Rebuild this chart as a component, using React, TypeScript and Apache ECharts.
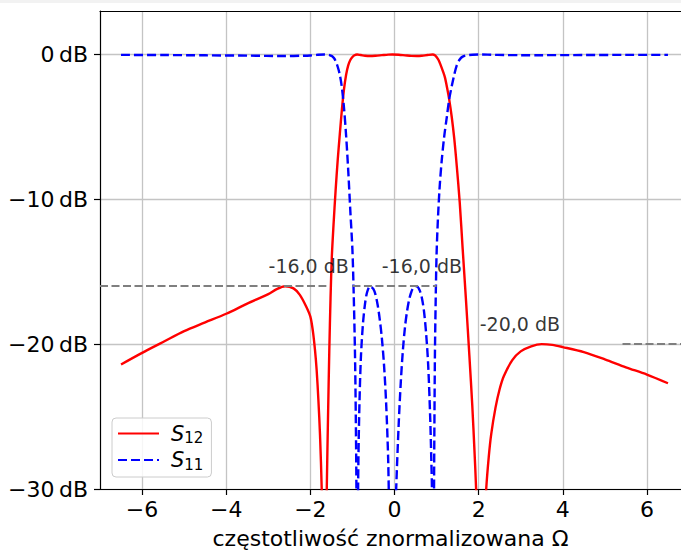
import React, { useEffect, useRef } from "react";
import * as echarts from "echarts";

const xTicks = [-6, -4, -2, 0, 2, 4, 6];
const yTicks = [-30, -20, -10, 0];

const s12X = [-6.5, -6.0, -5.5, -5.0, -4.5, -4.0, -3.5, -3.0, -2.8, -2.6, -2.4, -2.25, -2.1, -2.0, -1.94, -1.89, -1.85, -1.81, -1.77, -1.73, -1.7, -1.67, -1.64, -1.61, -1.58, -1.55, -1.52, -1.49, -1.45, -1.4, -1.35, -1.3, -1.25, -1.2, -1.15, -1.1, -1.05, -1.0, -0.95, -0.89, -0.8, -0.7, -0.58, -0.45, -0.3, -0.15, -0.05, 0.1, 0.25, 0.4, 0.53, 0.65, 0.78, 0.91, 0.96, 1.0, 1.05, 1.1, 1.15, 1.2, 1.25, 1.3, 1.36, 1.42, 1.48, 1.55, 1.62, 1.7, 1.78, 1.85, 1.9, 1.94, 1.98, 2.02, 2.06, 2.1, 2.14, 2.18, 2.24, 2.3, 2.4, 2.5, 2.6, 2.8, 3.0, 3.25, 3.5, 3.75, 4.0, 4.5, 5.0, 5.5, 6.0, 6.5];
const s12Y = [-21.4, -20.6, -19.85, -19.1, -18.5, -17.9, -17.2, -16.55, -16.2, -16.0, -16.15, -16.6, -17.4, -18.1, -19.1, -20.4, -21.8, -23.8, -26.3, -30, -35, -50, -36, -30, -25, -20.5, -16.8, -14.0, -11.8, -9.4, -7.3, -5.5, -3.8, -2.4, -1.4, -0.75, -0.38, -0.18, -0.05, 0, -0.04, -0.09, -0.11, -0.09, -0.05, -0.01, 0, -0.02, -0.06, -0.1, -0.11, -0.09, -0.04, 0, -0.05, -0.18, -0.4, -0.75, -1.15, -1.6, -2.3, -3.1, -4.3, -5.8, -7.7, -10.2, -13.4, -17.0, -20.8, -24.3, -27.3, -30, -34, -40, -52, -38, -32.5, -30, -27.8, -26.2, -24.4, -23.1, -22.2, -21.1, -20.5, -20.15, -20.0, -20.05, -20.2, -20.55, -21.05, -21.6, -22.1, -22.7];

const s11X = [-6.5, -5.5, -4.5, -3.5, -2.6, -2.2, -2.0, -1.85, -1.67, -1.58, -1.53, -1.48, -1.44, -1.4, -1.35, -1.3, -1.25, -1.2, -1.15, -1.1, -1.05, -1.0, -0.97, -0.94, -0.92, -0.905, -0.885, -0.865, -0.84, -0.8, -0.75, -0.7, -0.65, -0.58, -0.5, -0.45, -0.4, -0.35, -0.3, -0.25, -0.2, -0.15, -0.12, -0.09, -0.055, -0.02, 0.01, 0.04, 0.1, 0.15, 0.2, 0.25, 0.3, 0.35, 0.4, 0.45, 0.53, 0.6, 0.65, 0.7, 0.75, 0.8, 0.85, 0.875, 0.89, 0.915, 0.94, 0.96, 0.98, 1.0, 1.03, 1.07, 1.12, 1.18, 1.24, 1.3, 1.36, 1.42, 1.48, 1.55, 1.62, 1.72, 1.85, 2.06, 2.3, 2.6, 3.0, 3.5, 4.5, 5.5, 6.5];
const s11Y = [-0.03, -0.04, -0.06, -0.08, -0.11, -0.09, -0.07, -0.03, 0, -0.02, -0.06, -0.13, -0.25, -0.45, -0.85, -1.4, -2.3, -3.7, -5.6, -8.0, -10.8, -13.5, -16.5, -20.5, -25, -30, -45, -30, -25, -21, -18.6, -17.2, -16.4, -16.0, -16.2, -16.6, -17.3, -18.3, -19.6, -21.4, -24, -28, -33.3, -38.7, -50, -38.7, -33.3, -30, -25.5, -22.6, -20.4, -18.8, -17.7, -16.9, -16.4, -16.1, -16.0, -16.3, -16.8, -17.7, -19.2, -21.4, -25.2, -28, -30, -48, -30, -21, -16.8, -13.8, -11.5, -9.3, -7.4, -5.7, -4.4, -3.1, -2.2, -1.4, -0.75, -0.35, -0.15, -0.06, -0.02, 0, -0.02, -0.04, -0.05, -0.05, -0.04, -0.03, -0.03];

const refLineY = [-16, -16, -20];
const refLineStart = [-7, -1.0, 5.42];
const refLineEnd = [-1.62, 1.0, 6.81];

const noteText = ["-16,0 dB", "-16,0 dB", "-20,0 dB"];
const noteX = [-2.04, 0.65, 2.98];
const noteY = [-14.6, -14.6, -18.6];

const X_MIN = -7;
const X_MAX = 6.81;
const Y_MIN = -30;
const Y_MAX = 3;

const FONT = "DejaVu Sans";

const fmtNum = (v: number) => (v < 0 ? "\u2212" + String(-v) : String(v));

export default function App() {
  const ref = useRef<HTMLDivElement>(null);
  useEffect(() => {
    if (!ref.current) return;
    const chart = echarts.init(ref.current, undefined, { renderer: "svg" });
    const s12Data = s12X.map((x, i) => [x, s12Y[i]]);
    const s11Data = s11X.map((x, i) => [x, s11Y[i]]);
    const markData = refLineY.map((y, i) => [
      { coord: [refLineStart[i], y] },
      { coord: [refLineEnd[i], y] },
    ]);
    const notes = noteText.map((t, i) => ({ name: t, value: [noteX[i], noteY[i]] }));
    const gridColor = "#c4c4c4";
    const spine = { color: "#000", width: 1.2 };
    chart.setOption({
      animation: false,
      backgroundColor: "#ffffff",
      textStyle: { fontFamily: FONT },
      graphic: [
        { type: "rect", left: 0, top: 0, shape: { width: 681, height: 3 }, style: { fill: "#f2f2f2" }, silent: true },
      ],
      grid: {
        left: 100,
        top: 11,
        right: 0,
        bottom: 62,
        show: false,
        containLabel: false,
        outerBoundsMode: "none",
      },
      xAxis: [
        {
          type: "value",
          min: X_MIN,
          max: X_MAX,
          splitNumber: 7,
          name: "częstotliwość znormalizowana Ω",
          nameLocation: "middle",
          nameGap: 37,
          nameTextStyle: { fontFamily: FONT, fontSize: 22, color: "#000", lineHeight: 24 },
          axisLine: { show: true, onZero: false, lineStyle: spine },
          axisTick: { show: true, length: 6, customValues: xTicks, lineStyle: spine },
          axisLabel: {
            customValues: xTicks,
            formatter: (v: number) => fmtNum(v),
            fontFamily: FONT,
            fontSize: 22,
            color: "#000",
            margin: 9,
          },
          splitLine: { show: true, customValues: xTicks, lineStyle: { color: gridColor, width: 1.3 } },
        },
        {
          type: "value",
          position: "top",
          min: X_MIN,
          max: X_MAX,
          axisLine: { show: true, onZero: false, lineStyle: spine },
          axisTick: { show: false },
          axisLabel: { show: false },
          splitLine: { show: false },
        },
      ],
      yAxis: {
        type: "value",
        min: Y_MIN,
        max: Y_MAX,
        interval: 10,
        axisLine: { show: true, onZero: false, lineStyle: spine },
        axisTick: { show: true, length: 6, customValues: yTicks, lineStyle: spine },
        axisLabel: {
          customValues: yTicks,
          formatter: (v: number) => (v > 0 ? "" : fmtNum(v) + "\u2009dB"),
          fontFamily: FONT,
          fontSize: 22,
          color: "#000",
          margin: 12,
        },
        splitLine: { show: true, lineStyle: { color: gridColor, width: 1.3 } },
      },
      legend: {
        data: ["S12", "S11"],
        orient: "vertical",
        left: 112,
        top: 418,
        padding: [5, 8, 5, 5],
        itemGap: 4,
        itemWidth: 41,
        itemHeight: 14,
        borderColor: "#cccccc",
        borderWidth: 1,
        borderRadius: 4,
        backgroundColor: "rgba(255,255,255,0.85)",
        itemStyle: { opacity: 0 },
        formatter: (name: string) => `{s|S}{sub|${name.slice(1)}}`,
        textStyle: {
          color: "#000",
          rich: {
            s: { fontFamily: FONT, fontStyle: "italic", fontSize: 21, lineHeight: 24, padding: [0, 0, 0, 7], verticalAlign: "middle" },
            sub: { fontFamily: FONT, fontSize: 15, lineHeight: 14, verticalAlign: "bottom" },
          },
        },
      },
      series: [
        {
          name: "S12",
          type: "line",
          data: s12Data,
          symbol: "none",
          showSymbol: false,
          smooth: 0.3,
          color: "#ff0000",
          lineStyle: { color: "#ff0000", width: 2.4 },
          z: 3,
          silent: true,
        },
        {
          name: "S11",
          type: "line",
          data: s11Data,
          symbol: "none",
          showSymbol: false,
          smooth: 0.3,
          color: "#0000ff",
          lineStyle: { color: "#0000ff", width: 2.4, type: [9, 4] },
          z: 4,
          silent: true,
        },
        {
          name: "refs",
          type: "line",
          data: [],
          silent: true,
          markLine: {
            silent: true,
            symbol: "none",
            label: { show: false },
            lineStyle: { color: "#7f7f7f", width: 2, type: [8, 3.5] },
            data: markData,
          },
          z: 2,
        },
        {
          name: "notes",
          type: "scatter",
          data: notes,
          symbolSize: 0,
          silent: true,
          label: {
            show: true,
            position: "inside",
            formatter: (p: any) => p.name,
            fontFamily: FONT,
            fontSize: 19,
            color: "#000",
          },
          z: 5,
        },
      ],
    });
    return () => chart.dispose();
  }, []);
  return <div ref={ref} style={{ position: "fixed", left: 0, top: 0, width: 681, height: 551 }} />;
}
